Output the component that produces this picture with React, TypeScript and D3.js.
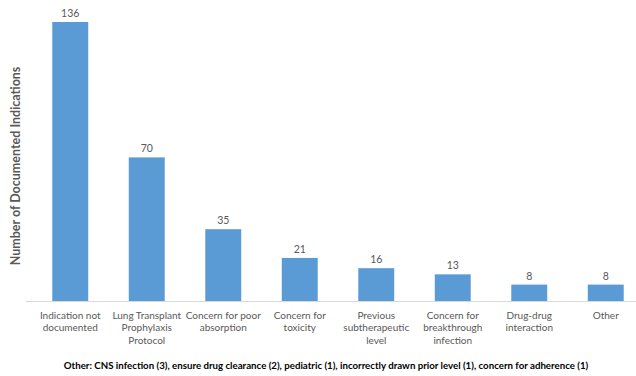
import React, { useEffect, useRef } from "react";
import * as d3 from "d3";

const categories: string[][] = [
  ["Indication not", "documented"],
  ["Lung Transplant", "Prophylaxis", "Protocol"],
  ["Concern for poor", "absorption"],
  ["Concern for", "toxicity"],
  ["Previous", "subtherapeutic", "level"],
  ["Concern for", "breakthrough", "infection"],
  ["Drug-drug", "interaction"],
  ["Other"],
];
const values: number[] = [136, 70, 35, 21, 16, 13, 8, 8];
const yTitle = "Number of Documented Indications";
const footnote =
  "Other: CNS infection (3), ensure drug clearance (2), pediatric (1), incorrectly drawn prior level (1), concern for adherence (1)";

const W = 636;
const H = 376;
const FONT = "Lato, 'Open Sans', sans-serif";

export default function App() {
  const ref = useRef<SVGSVGElement>(null);
  useEffect(() => {
    const svg = d3.select(ref.current);
    svg.selectAll("*").remove();
    const idx = values.map((_, i) => String(i));
    const x = d3.scaleBand<string>().domain(idx).range([32, 644]).paddingInner(0.53).paddingOuter(0.265);
    const y = d3.scaleLinear().domain([0, 136]).range([301, 22]);

    svg.append("line").attr("x1", 26).attr("x2", W).attr("y1", 301.5).attr("y2", 301.5)
      .attr("stroke", "#D9D9D9").attr("stroke-width", 1);

    svg.append("g").selectAll("rect").data(values).join("rect")
      .attr("x", (_, i) => x(String(i))!)
      .attr("y", (d) => y(d))
      .attr("width", x.bandwidth())
      .attr("height", (d) => y(0) - y(d))
      .attr("fill", "#5B9BD5");

    svg.append("g").selectAll("text").data(values).join("text")
      .attr("x", (_, i) => x(String(i))! + x.bandwidth() / 2)
      .attr("y", (d) => y(d) - 5)
      .attr("text-anchor", "middle")
      .attr("font-family", FONT).attr("font-size", 10.5).attr("fill", "#595959")
      .text((d) => String(d));

    const cg = svg.append("g");
    categories.forEach((lines, i) => {
      const t = cg.append("text")
        .attr("text-anchor", "middle")
        .attr("font-family", FONT).attr("font-size", 10).attr("fill", "#595959");
      lines.forEach((l, j) => {
        t.append("tspan").attr("x", x(String(i))! + x.bandwidth() / 2).attr("y", 318.5 + j * 12.5).text(l);
      });
    });

    svg.append("text")
      .attr("transform", `translate(20,${166}) rotate(-90)`)
      .attr("text-anchor", "middle")
      .attr("font-family", FONT).attr("font-size", 12.5).attr("font-weight", "bold").attr("fill", "#595959")
      .text(yTitle);

    svg.append("text")
      .attr("x", 326).attr("y", 369)
      .attr("text-anchor", "middle")
      .attr("font-family", FONT).attr("font-size", 9.7).attr("font-weight", "bold").attr("fill", "#000")
      .text(footnote);
  }, []);
  return (
    <svg ref={ref} width={W} height={H} style={{ position: "absolute", left: 0, top: 0, background: "#fff" }} />
  );
}
